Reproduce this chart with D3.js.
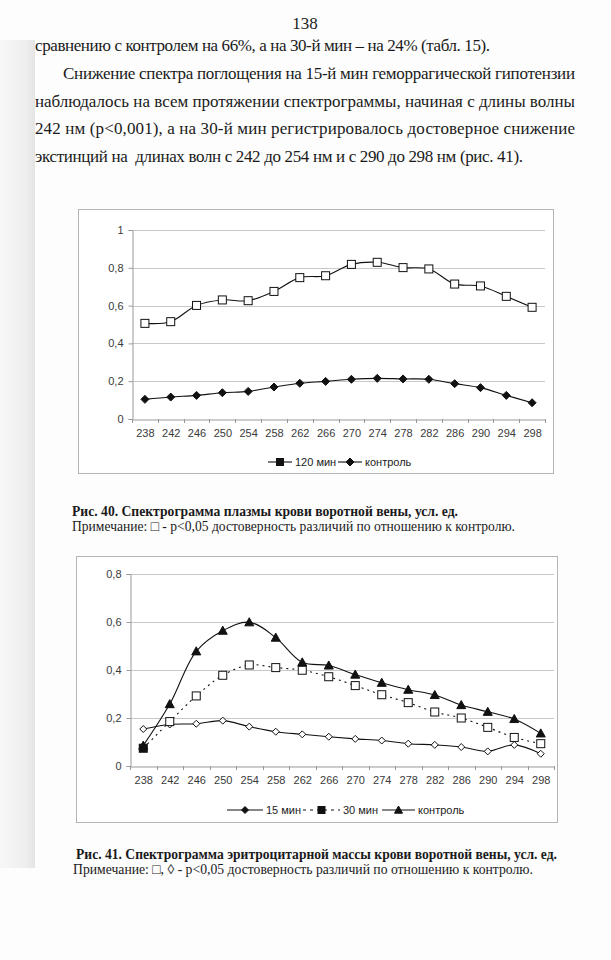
<!DOCTYPE html>
<html><head><meta charset="utf-8">
<script src="https://cdn.jsdelivr.net/npm/d3@7"></script>
<style>html,body{margin:0;padding:0;background:#fdfdfd}</style>
</head><body>
<svg id="page" width="611" height="960"></svg>
<script>
// ---------- DATA ----------
const wavelengths = [238,242,246,250,254,258,262,266,270,274,278,282,286,290,294,298];
// Fig. 40 – plasma
const plasma120 = [0.506,0.515,0.601,0.630,0.626,0.675,0.748,0.758,0.818,0.829,0.801,0.794,0.714,0.704,0.649,0.591];
const plasmaControl = [0.104,0.116,0.125,0.139,0.146,0.169,0.189,0.199,0.210,0.215,0.212,0.210,0.187,0.166,0.125,0.086];
// Fig. 41 – erythrocyte mass
const ery15 = [0.154,0.173,0.176,0.189,0.164,0.143,0.132,0.122,0.113,0.106,0.093,0.088,0.079,0.061,0.088,0.051];
const ery30 = [0.074,0.185,0.292,0.378,0.421,0.410,0.399,0.372,0.335,0.297,0.264,0.225,0.200,0.161,0.119,0.093];
const ery30Significant = [false,true,true,true,true,true,true,true,true,true,true,true,true,true,true,true];
const eryControl = [0.085,0.258,0.478,0.564,0.599,0.535,0.432,0.419,0.381,0.347,0.318,0.296,0.254,0.226,0.196,0.136];
const yTicks1 = [0,0.2,0.4,0.6,0.8,1];
const yTicks2 = [0,0.2,0.4,0.6,0.8];

const pageNumber = "138";
const paragraphLines = [
  "сравнению с контролем на 66%, а на 30-й мин – на 24% (табл. 15).",
  "Снижение спектра поглощения на 15-й мин геморрагической гипотензии",
  "наблюдалось на всем протяжении спектрограммы, начиная с длины волны",
  "242 нм (р<0,001), а на 30-й мин регистрировалось достоверное снижение",
  "экстинций на  длинах волн с 242 до 254 нм и с 290 до 298 нм (рис. 41)."
];
const caption40 = "Рис. 40. Спектрограмма плазмы крови воротной вены, усл. ед.";
const note40 = "Примечание: □ - р<0,05 достоверность различий по отношению к контролю.";
const caption41 = "Рис. 41. Спектрограмма эритроцитарной массы крови воротной вены, усл. ед.";
const note41 = "Примечание: □, ◊ - р<0,05 достоверность различий по отношению к контролю.";

// ---------- PAGE ----------
const svg = d3.select("#page");
const defs = svg.append("defs");
const g = defs.append("linearGradient").attr("id","strip").attr("x1","0").attr("x2","1");
g.append("stop").attr("offset","0").attr("stop-color","#f7f7f7");
g.append("stop").attr("offset","0.75").attr("stop-color","#eeeeee");
g.append("stop").attr("offset","1").attr("stop-color","#e4e4e4");
svg.append("rect").attr("x",0).attr("y",0).attr("width",611).attr("height",960).attr("fill","#fdfdfd");
svg.append("rect").attr("x",0).attr("y",40).attr("width",35).attr("height",828).attr("fill","url(#strip)");

const serif = "'Liberation Serif','Times New Roman',serif";
const sans = "'Liberation Sans',Arial,sans-serif";

svg.append("text").attr("x",305).attr("y",29).attr("text-anchor","middle")
  .attr("font-family",serif).attr("font-size",17).attr("fill","#222").text(pageNumber);

const lineLayout = [[35,490,51],[63,575,79],[35,575,107],[35,575,134],[35,523,162]];
paragraphLines.forEach((t,i)=>{
  const [x0,x1,y] = lineLayout[i];
  svg.append("text").attr("x",x0).attr("y",y)
    .attr("font-family",serif).attr("font-size",17).attr("fill","#1a1a1a")
    .attr("textLength",x1-x0).attr("lengthAdjust","spacing")
    .style("white-space","pre").text(t);
});

function caption(text,x0,x1,y,bold){
  svg.append("text").attr("x",x0).attr("y",y)
    .attr("font-family",serif).attr("font-size",14)
    .attr("font-weight",bold?"bold":"normal").attr("fill","#1a1a1a")
    .attr("textLength",x1-x0).attr("lengthAdjust","spacingAndGlyphs").text(text);
}
caption(caption40,72,458,516,true);
caption(note40,72,515,531,false);
caption(caption41,76,557,859,true);
caption(note41,73,533,874,false);

// ---------- CHART FUNCTION ----------
function marker(sel, type, x, y, filled, size){
  const fill = filled ? "#111" : "#fff";
  if(type==="square"){
    sel.append("rect").attr("x",x-size/2).attr("y",y-size/2).attr("width",size).attr("height",size)
      .attr("fill",fill).attr("stroke","#111").attr("stroke-width",1);
  } else if(type==="diamond"){
    const s=size/2+0.5;
    sel.append("path").attr("d",`M${x},${y-s}L${x+s},${y}L${x},${y+s}L${x-s},${y}Z`)
      .attr("fill",fill).attr("stroke","#111").attr("stroke-width",1);
  } else if(type==="triangle"){
    const s=size/2+0.5;
    sel.append("path").attr("d",`M${x},${y-s}L${x+s},${y+s*0.8}L${x-s},${y+s*0.8}Z`)
      .attr("fill",fill).attr("stroke","#111").attr("stroke-width",1);
  }
}

function drawChart(cfg){
  const root = svg.append("g");
  root.append("rect").attr("x",cfg.box[0]+0.5).attr("y",cfg.box[1]+0.5)
    .attr("width",cfg.box[2]-cfg.box[0]).attr("height",cfg.box[3]-cfg.box[1])
    .attr("fill","#fff").attr("stroke","#b5b5b5").attr("stroke-width",1);

  const x = d3.scalePoint().domain(wavelengths).range([cfg.plot[0],cfg.plot[1]]).padding(0.5);
  const xb = d3.scaleBand().domain(wavelengths).range([cfg.plot[0],cfg.plot[1]]);
  const y = d3.scaleLinear().domain([0,cfg.yMax]).range([cfg.plot[3],cfg.plot[2]]);

  // gridlines
  root.append("g").selectAll("line").data(cfg.yTicks.filter(d=>d>0)).join("line")
    .attr("x1",cfg.plot[0]).attr("x2",cfg.plot[1])
    .attr("y1",d=>Math.round(y(d))+0.5).attr("y2",d=>Math.round(y(d))+0.5)
    .attr("stroke","#c8c8c8").attr("stroke-width",1);

  // y axis
  const ya = root.append("g").attr("transform",`translate(${Math.round(cfg.plot[0])+0.5},0)`)
    .call(d3.axisLeft(y).tickValues(cfg.yTicks).tickSize(4).tickPadding(5)
      .tickFormat(d=>d3.format("~g")(d).replace(".",",")));
  ya.select(".domain").attr("stroke","#999");
  ya.selectAll(".tick line").attr("stroke","#999");
  ya.selectAll("text").attr("font-family",sans).attr("font-size",11).attr("fill","#3a3a3a");

  // x axis
  const xa = root.append("g").attr("transform",`translate(0,${Math.round(cfg.plot[3])+0.5})`)
    .call(d3.axisBottom(x).tickSize(0).tickPadding(10));
  xa.select(".domain").attr("stroke","#999");
  xa.selectAll("text").attr("font-family",sans).attr("font-size",11).attr("fill","#3a3a3a");
  root.append("g").selectAll("line").data(wavelengths.concat(["end"])).join("line")
    .attr("x1",(d,i)=>Math.round(cfg.plot[0]+i*xb.step())+0.5)
    .attr("x2",(d,i)=>Math.round(cfg.plot[0]+i*xb.step())+0.5)
    .attr("y1",cfg.plot[3]).attr("y2",cfg.plot[3]+4).attr("stroke","#999");

  const line = d3.line().x((d,i)=>x(wavelengths[i])).y(d=>y(d)).curve(d3.curveCatmullRom.alpha(0.5));
  cfg.series.forEach(s=>{
    root.append("path").attr("d",line(s.values)).attr("fill","none")
      .attr("stroke","#111").attr("stroke-width",1.1)
      .attr("stroke-dasharray",s.dash||null);
  });
  cfg.series.forEach(s=>{
    const mg = root.append("g");
    s.values.forEach((v,i)=>marker(mg,s.marker,x(wavelengths[i]),y(v),s.filled(i),s.size));
  });

  // legend
  const lg = root.append("g");
  cfg.legend.forEach(l=>{
    lg.append("line").attr("x1",l.x0).attr("x2",l.x1).attr("y1",cfg.legendY).attr("y2",cfg.legendY)
      .attr("stroke","#111").attr("stroke-width",1.1).attr("stroke-dasharray",l.dash||null);
    marker(lg,l.marker,(l.x0+l.x1)/2,cfg.legendY,true,l.size);
    lg.append("text").attr("x",l.x1+3).attr("y",cfg.legendY+4)
      .attr("font-family",sans).attr("font-size",11).attr("fill","#222").text(l.label);
  });
}

drawChart({
  box:[78,209,553,473], plot:[132,545,230,419], yMax:1, yTicks:yTicks1,
  series:[
    {values:plasma120, marker:"square", size:8, filled:()=>false},
    {values:plasmaControl, marker:"diamond", size:7, filled:()=>true}
  ],
  legendY:462,
  legend:[
    {x0:268,x1:292,marker:"square",size:7,label:"120 мин"},
    {x0:338,x1:362,marker:"diamond",size:7,label:"контроль"}
  ]
});

drawChart({
  box:[76,556,557,822], plot:[130,554,574,766], yMax:0.8, yTicks:yTicks2,
  series:[
    {values:ery15, marker:"diamond", size:6, filled:()=>false},
    {values:ery30, marker:"square", size:8, filled:i=>!ery30Significant[i], dash:"2,4"},
    {values:eryControl, marker:"triangle", size:8, filled:()=>true}
  ],
  legendY:810,
  legend:[
    {x0:227,x1:263,marker:"diamond",size:6,label:"15 мин"},
    {x0:303,x1:340,marker:"square",size:7,label:"30 мин",dash:"3,4"},
    {x0:382,x1:415,marker:"triangle",size:7,label:"контроль"}
  ]
});
</script>
</body></html>
